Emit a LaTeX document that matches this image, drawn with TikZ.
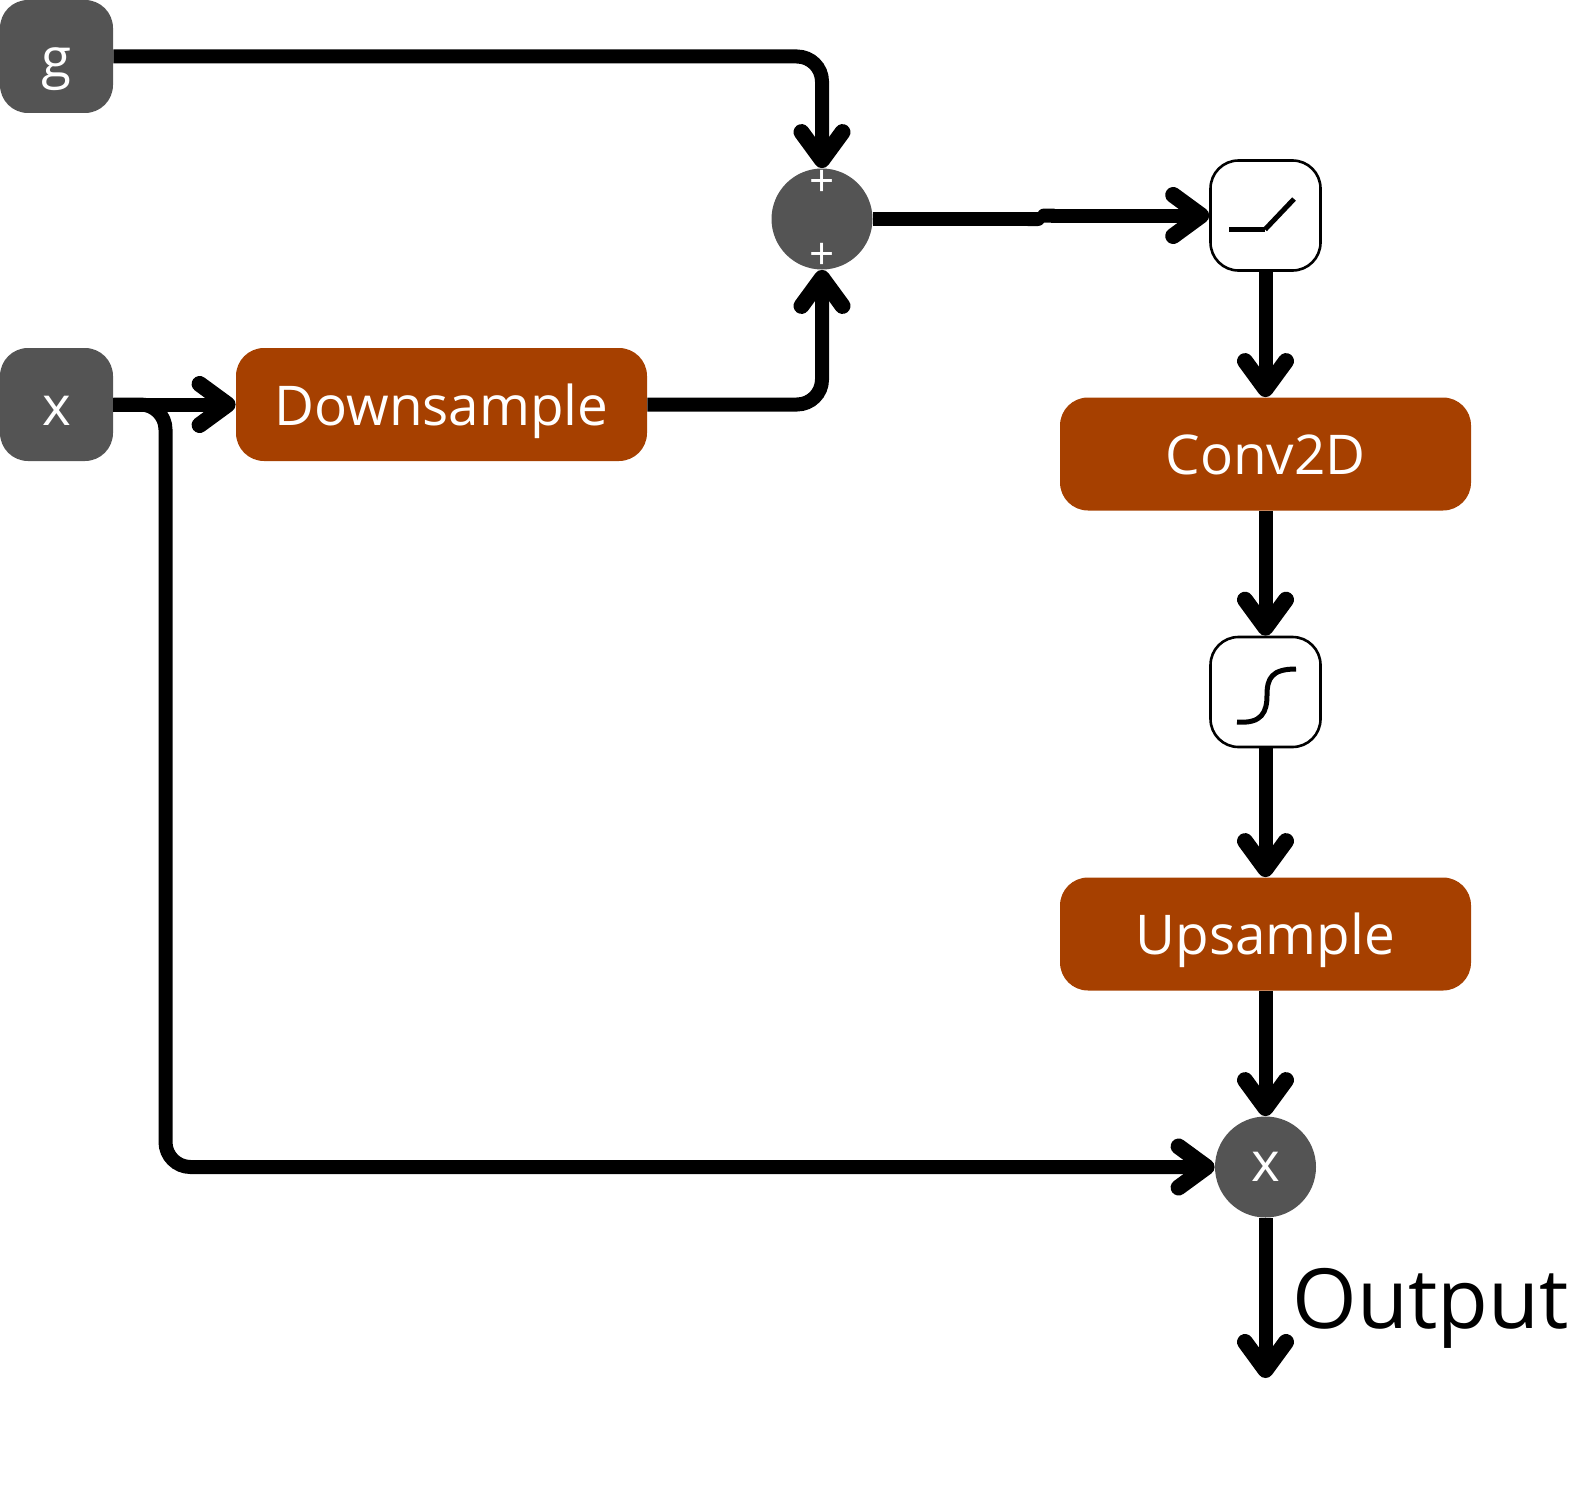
\documentclass[tikz,border=0pt]{standalone}
\usepackage{fontspec}
\setmainfont{Open Sans}
\usetikzlibrary{arrows.meta}
\definecolor{boxgray}{HTML}{545454}
\definecolor{boxrust}{HTML}{A64000}
\tikzset{
    inbox/.style={rectangle, rounded corners=14pt, fill=boxgray, text=white, minimum width=56.5pt, minimum height=56.5pt, inner sep=0pt, font=\fontsize{27.4}{30}\selectfont, text height=26pt, text depth=5.4pt},
    opbox/.style={rectangle, rounded corners=14pt, fill=boxrust, text=white, minimum width=205.5pt, minimum height=56.5pt, inner sep=0pt, font=\fontsize{27.4}{30}\selectfont, text height=26pt, text depth=5.4pt},
    actbox/.style={rectangle, rounded corners=14pt, draw=black, line width=1.3pt, fill=white, minimum width=55pt, minimum height=55pt, inner sep=0pt},
    opcirc/.style={circle, fill=boxgray, text=white, minimum size=50.5pt, inner sep=0pt, font=\fontsize{27.4}{30}\selectfont, text height=20.1pt, text depth=5.4pt},
    plussign/.style={text=white, inner sep=0pt, font=\fontsize{22}{24}\selectfont},
    wire/.style={line width=7pt},
    arrowwire/.style={wire, -{Straight Barb[round, length=14pt, width=20.5pt, line width=8pt]}},
    glyph/.style={line width=2.5pt}
}
\begin{document}
\begin{tikzpicture}[x=0.5pt, y=-0.5pt]
    \useasboundingbox (0,0) rectangle (1589,1493);

    % inputs and blocks
    \node[inbox] (g) at (56.5,56.5) {g};
    \node[inbox] (xin) at (56.5,404.5) {x};
    \node[opbox] (down) at (441.5,404.5) {Downsample};
    \node[opcirc] (sum) at (822,219) {};
    \node[plussign] (plustop) at (822.5,183) {+};
    \node[plussign] (plusbot) at (822.5,256) {+};
    \node[actbox] (ramp) at (1265.5,215.5) {};
    \node[opbox] (conv) at (1265.5,454) {Conv2D};
    \node[actbox] (sig) at (1265.5,692) {};
    \node[opbox] (up) at (1265.5,934) {Upsample};
    \node[opcirc] (mul) at (1265.5,1167) {x};
    \node[anchor=base west, inner sep=0pt, font=\fontsize{41.5}{46}\selectfont] (outtext) at (1292,1328) {Output};

    \coordinate (jogA) at (1045,219);
    \coordinate (jogB) at (1037,215.5);
    \coordinate (trunk) at (165.5,1167);
    \coordinate (out) at (1265.5,1378);

    % connectors
    \draw[arrowwire, rounded corners=12.5pt] (g.east) -| (sum.north);
    \draw[arrowwire] (xin.east) -- (down.west);
    \draw[arrowwire, rounded corners=12.5pt] (down.east) -| (sum.south);
    \draw[arrowwire, rounded corners=12.5pt] (xin.east) -| (trunk) -- (mul.west);
    \draw[wire, -{Round Cap}] (sum.east) -- (jogA);
    \draw[wire, {Round Cap}-{Straight Barb[round, length=14pt, width=20.5pt, line width=8pt]}] (jogB) -- (ramp.west);
    \draw[arrowwire] (ramp.south) -- (conv.north);
    \draw[arrowwire] (conv.south) -- (sig.north);
    \draw[arrowwire] (sig.south) -- (up.north);
    \draw[arrowwire] (up.south) -- (mul.north);
    \draw[arrowwire] (mul.south) -- (out);

    % activation curves
    \draw[glyph] (1229,229.5) -- (1265,229.5);
    \draw[glyph] (1265,229.5) -- (1294,199);
    \draw[glyph] (1237,722) .. controls (1262,724) and (1267,712) .. (1267,695) .. controls (1267,678) and (1272,669) .. (1296,669);
\end{tikzpicture}
\end{document}
